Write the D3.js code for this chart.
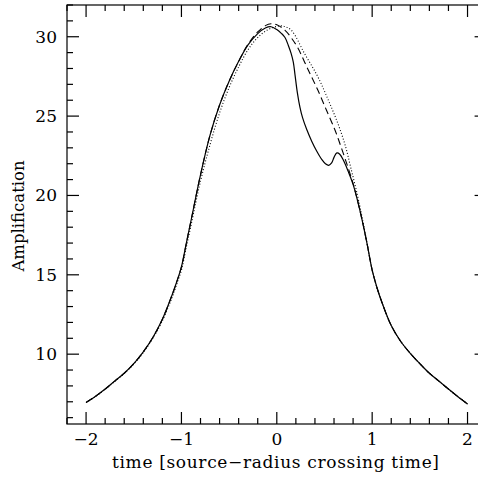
<!DOCTYPE html>
<html><head><meta charset="utf-8">
<script src="https://cdn.jsdelivr.net/npm/d3@7"></script>
<style>body{margin:0;background:#fff}svg{display:block}</style>
</head><body>
<script>
// time [source-radius crossing time], amplification
const solidT = [-2,-1.9,-1.8,-1.7,-1.6,-1.5,-1.4,-1.3,-1.2,-1.1,-1.05,-1.0,-0.95,-0.9,-0.8,-0.7,-0.6,-0.5,-0.4,-0.3,-0.2,-0.12,-0.06,0,0.05,0.086,0.121,0.15,0.173,0.191,0.215,0.243,0.27,0.314,0.366,0.418,0.471,0.51,0.545,0.575,0.6,0.63,0.66,0.7,0.75,0.8,0.85,0.9,0.95,1.0,1.05,1.1,1.2,1.3,1.4,1.5,1.6,1.7,1.8,1.9,2.0];
const solidA = [6.96,7.35,7.8,8.3,8.8,9.4,10.15,11.05,12.2,13.7,14.55,15.5,16.95,18.4,21.3,23.8,25.7,27.2,28.45,29.5,30.2,30.55,30.63,30.45,30.2,29.95,29.45,28.95,28.4,27.6,26.5,25.55,24.9,24.15,23.42,22.8,22.27,22.0,21.9,22.05,22.4,22.68,22.6,22.2,21.5,20.7,19.6,18.3,16.85,15.3,14.2,13.3,11.8,10.8,10.05,9.4,8.8,8.3,7.8,7.32,6.86];
const dashedT = [-2,-1.9,-1.8,-1.7,-1.6,-1.5,-1.4,-1.3,-1.2,-1.1,-1.05,-1.0,-0.95,-0.9,-0.8,-0.7,-0.6,-0.5,-0.4,-0.3,-0.2,-0.12,-0.06,0,0.084,0.15,0.22,0.33,0.43,0.52,0.61,0.68,0.75,0.8,0.85,0.9,0.95,1.0,1.05,1.1,1.2,1.3,1.4,1.5,1.6,1.7,1.8,1.9,2.0];
const dashedA = [6.96,7.35,7.8,8.3,8.8,9.4,10.15,11.05,12.2,13.7,14.55,15.5,16.95,18.4,21.3,23.8,25.7,27.2,28.45,29.55,30.3,30.7,30.82,30.75,30.42,29.95,29.3,27.9,26.64,25.38,24.12,22.95,21.7,20.75,19.6,18.3,16.85,15.3,14.2,13.3,11.8,10.8,10.05,9.4,8.8,8.3,7.8,7.32,6.86];
const dottedT = [-2,-1.9,-1.8,-1.7,-1.6,-1.5,-1.4,-1.3,-1.2,-1.1,-1.05,-1.0,-0.95,-0.9,-0.8,-0.7,-0.6,-0.5,-0.4,-0.3,-0.2,-0.1,0,0.06,0.15,0.29,0.43,0.54,0.64,0.72,0.78,0.85,0.9,0.95,1.0,1.05,1.1,1.2,1.3,1.4,1.5,1.6,1.7,1.8,1.9,2.0];
const dottedA = [6.95,7.34,7.78,8.28,8.78,9.38,10.1,11.0,12.1,13.55,14.4,15.3,16.7,18.1,20.9,23.2,25.2,26.8,28.1,29.2,29.95,30.42,30.65,30.68,30.42,28.95,27.48,26.01,24.54,23.1,21.65,19.9,18.45,16.9,15.3,14.2,13.3,11.8,10.8,10.05,9.4,8.8,8.3,7.8,7.32,6.86];
const xMajor = [-2,-1,0,1,2];
const yMajor = [10,15,20,25,30];
const xLabel = "time [source\u2212radius crossing time]";
const yLabel = "Amplification";

const W = 478, H = 477;
const x = d3.scaleLinear().domain([-2.2, 2.2]).range([67, 486.6]);
const y = d3.scaleLinear().domain([5.6, 32]).range([424, 5]);
const svg = d3.select("body").append("svg").attr("width", W).attr("height", H);
const font = "DejaVu Serif";

const xMinor = d3.range(-2.2, 2.2001, 0.2).map(v => +v.toFixed(2)).filter(v => !xMajor.some(m => Math.abs(m - v) < 1e-6));
const yMinor = d3.range(6, 33, 1).filter(v => !yMajor.includes(v));

const g = svg.append("g").attr("stroke", "#000").attr("stroke-width", 1.2);
g.append("rect").attr("x", x.range()[0]).attr("y", y.range()[1])
  .attr("width", x.range()[1] - x.range()[0]).attr("height", y.range()[0] - y.range()[1]).attr("fill", "none");
const ticksX = xMajor.map(v => ({v, L: 12})).concat(xMinor.map(v => ({v, L: 6})));
ticksX.forEach(t => {
  g.append("line").attr("x1", x(t.v)).attr("x2", x(t.v)).attr("y1", y.range()[0]).attr("y2", y.range()[0] - t.L);
  g.append("line").attr("x1", x(t.v)).attr("x2", x(t.v)).attr("y1", y.range()[1]).attr("y2", y.range()[1] + t.L);
});
const ticksY = yMajor.map(v => ({v, L: 12})).concat(yMinor.map(v => ({v, L: 6})));
ticksY.forEach(t => {
  g.append("line").attr("y1", y(t.v)).attr("y2", y(t.v)).attr("x1", x.range()[0]).attr("x2", x.range()[0] + t.L);
  g.append("line").attr("y1", y(t.v)).attr("y2", y(t.v)).attr("x1", x.range()[1]).attr("x2", x.range()[1] - t.L);
});

svg.append("g").selectAll("text").data(xMajor).join("text")
  .attr("x", d => x(d)).attr("y", 445).attr("text-anchor", "middle")
  .attr("font-family", font).attr("font-size", 17)
  .text(d => d < 0 ? "\u2212" + Math.abs(d) : String(d));
svg.append("g").selectAll("text").data(yMajor).join("text")
  .attr("x", 57).attr("y", d => y(d) + 6).attr("text-anchor", "end")
  .attr("font-family", font).attr("font-size", 17)
  .text(d => String(d));

svg.append("text").attr("x", 275.5).attr("y", 468).attr("text-anchor", "middle")
  .attr("font-family", font).attr("font-size", 17)
  .attr("textLength", 327).attr("lengthAdjust", "spacing").text(xLabel);
svg.append("text").attr("transform", "translate(24,216) rotate(-90)").attr("text-anchor", "middle")
  .attr("font-family", font).attr("font-size", 16.5).text(yLabel);

const line = d3.line().x(d => x(d[0])).y(d => y(d[1])).curve(d3.curveCatmullRom.alpha(0.5));
const mk = (T, A) => T.map((t, i) => [t, A[i]]);
svg.append("path").attr("d", line(mk(dottedT, dottedA))).attr("fill", "none")
  .attr("stroke", "#000").attr("stroke-width", 1.1).attr("stroke-dasharray", "1,2");
svg.append("path").attr("d", line(mk(dashedT, dashedA))).attr("fill", "none")
  .attr("stroke", "#000").attr("stroke-width", 1.1).attr("stroke-dasharray", "7,4");
svg.append("path").attr("d", line(mk(solidT, solidA))).attr("fill", "none")
  .attr("stroke", "#000").attr("stroke-width", 1.2);
</script>
</body></html>
